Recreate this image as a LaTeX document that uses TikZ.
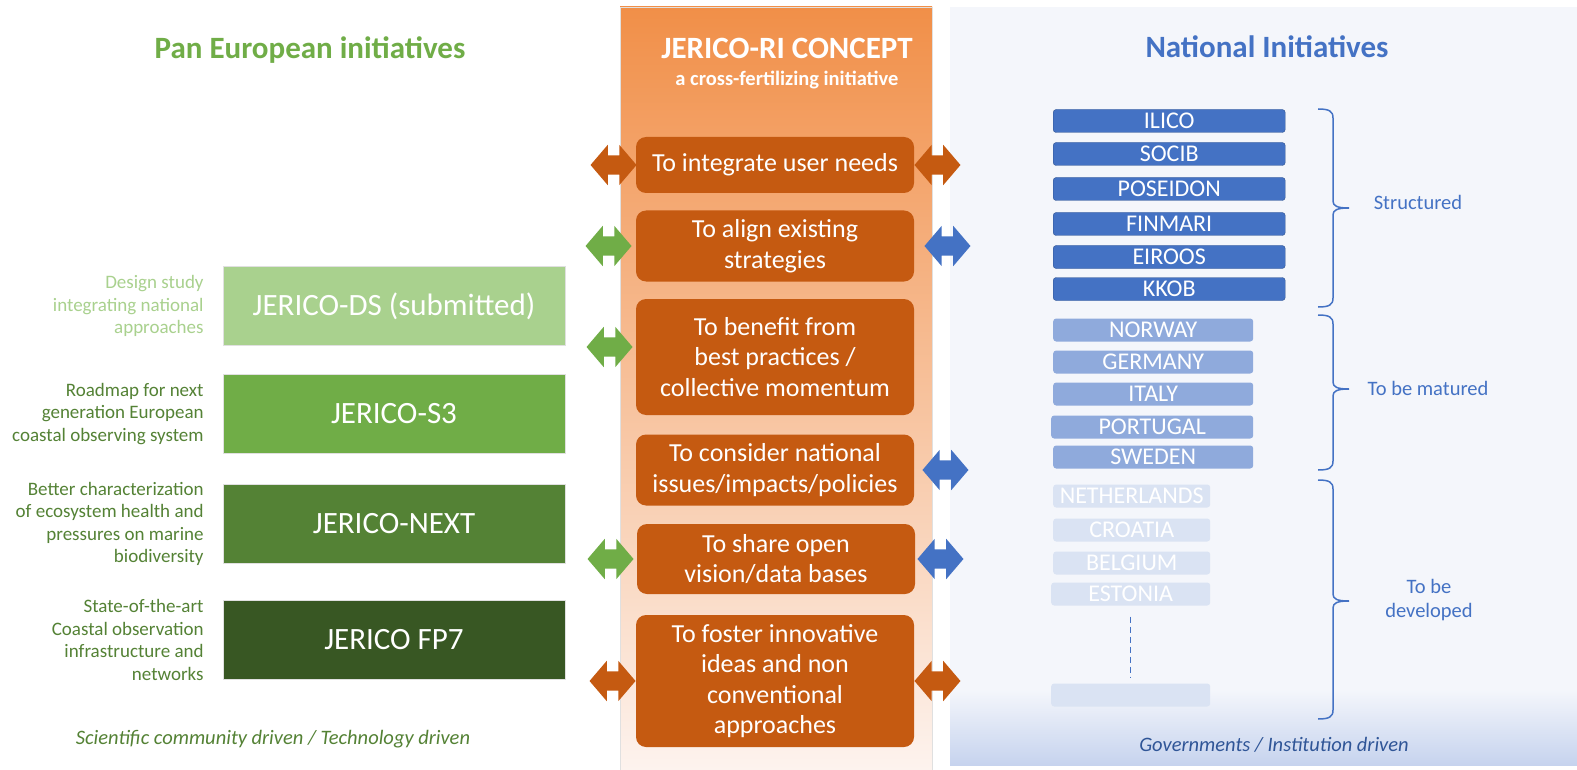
\documentclass[tikz,border=0pt]{standalone}
\usepackage{fontspec}
\setmainfont{Carlito}
\usetikzlibrary{shapes.arrows,positioning,calc}

\definecolor{concept}{HTML}{C55A11}
\definecolor{colTop}{HTML}{F18F48}
\definecolor{colMid}{HTML}{F8CBAA}
\definecolor{colLow}{HTML}{FDF3EE}
\definecolor{panLight}{HTML}{A9D18E}
\definecolor{panGreen}{HTML}{70AD47}
\definecolor{panDark}{HTML}{548235}
\definecolor{panDarker}{HTML}{385723}
\definecolor{natBlue}{HTML}{4472C4}
\definecolor{natEdge}{HTML}{2F528F}
\definecolor{natMid}{HTML}{8FAADC}
\definecolor{natPale}{HTML}{DAE3F3}
\definecolor{natPanel}{HTML}{F4F6FB}
\definecolor{natFoot}{HTML}{C6D3EE}
\definecolor{natText}{HTML}{2F5597}

\newcommand{\fsz}[2]{\fontsize{#1}{#2}\selectfont}
% curly bracket for a group of national boxes: top, tip, bottom
\newcommand{\natbrace}[3]{%
  \draw[bracket] (1318,#1) .. controls (1329,#1) and (1333,#1+2) .. (1333,#1+9)
    -- (1333,#2-7) .. controls (1333,#2-2) and (1337,#2) .. (1349,#2)
    .. controls (1337,#2) and (1333,#2+2) .. (1333,#2+7)
    -- (1333,#3-9) .. controls (1333,#3-2) and (1329,#3) .. (1318,#3);}

\begin{document}
\begin{tikzpicture}[x=1pt, y=-1pt,
    goal/.style={fill=concept, rounded corners=10pt, text=white, align=center, minimum width=278pt, inner sep=2pt, font=\fsz{26}{30.5}},
    proj/.style={draw=black!12, minimum width=342pt, minimum height=79pt, text=white, font=\fsz{31}{36}},
    desc/.style={align=right, font=\fsz{19}{22.5}},
    nat/.style={anchor=west, rounded corners=3pt, minimum height=23pt, inner sep=0pt, text=white, font=\fsz{24}{24}},
    darrow/.style={double arrow, minimum height=46pt, minimum width=40pt, inner xsep=0pt, inner ysep=9.5pt, double arrow head extend=10.5pt, double arrow tip angle=99, draw=none},
    bracket/.style={draw=natBlue, line width=1.5pt},
    every node/.style={inner sep=0pt}]
    \useasboundingbox (0,0) rectangle (1577,770);
    \fill[white] (0,0) rectangle (1577,770);

    % Backgrounds
    \shade[top color=colTop, middle color=colMid, bottom color=colLow] (620,7) rectangle (932,770);
    \draw[black!12] (620,770) -- (620,7) -- (932,7) -- (932,770);
    \fill[natPanel] (950,7) rectangle (1577,765);
    \shade[top color=natPanel, bottom color=natFoot] (950,690) rectangle (1577,765);

    % Titles
    \node[text=panGreen, font=\fsz{31}{36}\bfseries] (pantitle) at (310,50) {Pan European initiatives};
    \node[text=natBlue, font=\fsz{31}{36}\bfseries] (nattitle) at (1267,47) {National Initiatives};
    \node[text=white, font=\fsz{31}{36}\bfseries] (concept) at (787,48) {JERICO-RI CONCEPT};
    \node[text=white, font=\fsz{20.5}{24}\bfseries] (conceptsub) at (787,80) {a cross-fertilizing initiative};

    % Concept goals
    \node[goal, minimum height=56pt] (integrate) at (775,165) {To integrate user needs};
    \node[goal, minimum height=71pt] (align) at (775,246) {To align existing\\strategies};
    \node[goal, minimum height=116pt] (benefit) at (775,357) {To benefit from\\best practices /\\collective momentum};
    \node[goal, minimum height=71pt] (consider) at (775,470) {To consider national\\issues/impacts/policies};
    \node[goal, minimum height=70pt] (share) at (776,559) {To share open\\vision/data bases};
    \node[goal, minimum height=132pt] (foster) at (775,681) {To foster innovative\\ideas and non\\conventional\\approaches};

    % Arrows
    \node[darrow, fill=concept, left=-1pt of integrate] (integrateW) {};
    \node[darrow, fill=concept, right=0pt of integrate] (integrateE) {};
    \node[darrow, fill=panGreen, left=4pt of align] (alignW) {};
    \node[darrow, fill=natBlue, right=10pt of align] (alignE) {};
    \node[darrow, fill=panGreen, left=3pt of benefit, yshift=10pt] (benefitW) {};
    \node[darrow, fill=natBlue, right=8pt of consider] (considerE) {};
    \node[darrow, fill=panGreen, left=3pt of share] (shareW) {};
    \node[darrow, fill=natBlue, right=2pt of share] (shareE) {};
    \node[darrow, fill=concept, left=0pt of foster] (fosterW) {};
    \node[darrow, fill=concept, right=0pt of foster] (fosterE) {};

    % Pan European projects
    \node[proj, fill=panLight] (ds) at (394,306) {JERICO-DS (submitted)};
    \node[proj, fill=panGreen] (sthree) at (394,414) {JERICO-S3};
    \node[proj, fill=panDark] (next) at (394,524) {JERICO-NEXT};
    \node[proj, fill=panDarker] (fpseven) at (394,640) {JERICO FP7};
    \node[desc, text=panLight, left=19pt of ds] (dsdesc) {Design study\\integrating national\\approaches};
    \node[desc, text=panDark, left=19pt of sthree] (sthreedesc) {Roadmap for next\\generation European\\coastal observing system};
    \node[desc, text=panDark, left=19pt of next] (nextdesc) {Better characterization\\of ecosystem health and\\pressures on marine\\biodiversity};
    \node[desc, text=panDark, left=19pt of fpseven] (fpsevendesc) {State-of-the-art\\Coastal observation\\infrastructure and\\networks};
    \node[text=panDark, font=\fsz{20.5}{24}\itshape] (pandriven) at (273,739) {Scientific community driven / Technology driven};

    % National initiatives
    \node[nat, fill=natBlue, draw=natEdge, minimum width=232pt] (ilico) at (1053,121) {ILICO};
    \node[nat, fill=natBlue, draw=natEdge, minimum width=232pt] (socib) at (1053,154) {SOCIB};
    \node[nat, fill=natBlue, draw=natEdge, minimum width=232pt] (poseidon) at (1053,189) {POSEIDON};
    \node[nat, fill=natBlue, draw=natEdge, minimum width=232pt] (finmari) at (1053,224) {FINMARI};
    \node[nat, fill=natBlue, draw=natEdge, minimum width=232pt] (eiroos) at (1053,257) {EIROOS};
    \node[nat, fill=natBlue, draw=natEdge, minimum width=232pt] (kkob) at (1053,289) {KKOB};
    \node[nat, fill=natMid, minimum width=200pt] (norway) at (1053,330) {NORWAY};
    \node[nat, fill=natMid, minimum width=200pt] (germany) at (1053,362) {GERMANY};
    \node[nat, fill=natMid, minimum width=200pt] (italy) at (1053,394) {ITALY};
    \node[nat, fill=natMid, minimum width=202pt] (portugal) at (1051,427) {PORTUGAL};
    \node[nat, fill=natMid, minimum width=200pt] (sweden) at (1053,457) {SWEDEN};
    \node[nat, fill=natPale, minimum width=157pt] (netherlands) at (1053,496) {NETHERLANDS};
    \node[nat, fill=natPale, minimum width=157pt] (croatia) at (1053,530) {CROATIA};
    \node[nat, fill=natPale, minimum width=157pt] (belgium) at (1053,563) {BELGIUM};
    \node[nat, fill=natPale, minimum width=159pt] (estonia) at (1051,594) {ESTONIA};
    \node[nat, fill=natPale, minimum width=159pt] (more) at (1051,695) {};
    \draw[natBlue, line width=1pt, dash pattern=on 6pt off 4pt, shorten <=11pt, shorten >=5pt] (estonia) -- (more);

    % Groups
    \natbrace{109}{208}{307}
    \natbrace{315}{389}{470}
    \natbrace{480}{601}{719}
    \node[text=natBlue, font=\fsz{20.5}{24}] (structured) at (1418,202) {Structured};
    \node[text=natBlue, font=\fsz{20.5}{24}] (matured) at (1428,388) {To be matured};
    \node[text=natBlue, font=\fsz{20.5}{24}, align=center] (developed) at (1429,600) {To be\\developed};
    \node[text=natText, font=\fsz{20.5}{24}\itshape] (natdriven) at (1274,745) {Governments / Institution driven};
\end{tikzpicture}
\end{document}
